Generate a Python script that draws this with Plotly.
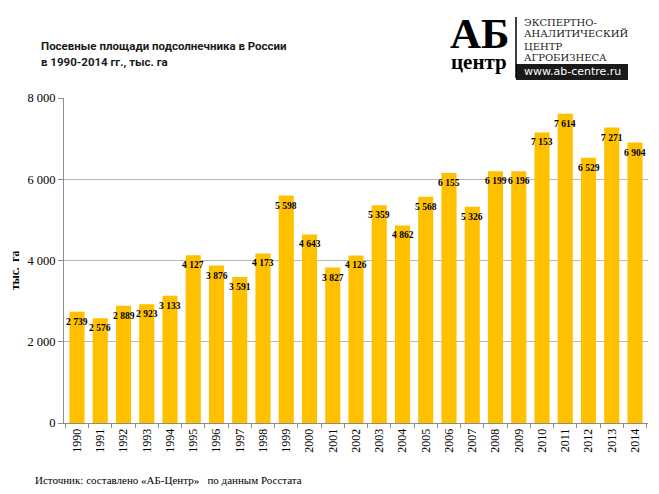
import plotly.graph_objects as go

years = [str(y) for y in range(1990, 2015)]
values = [2739, 2576, 2889, 2923, 3133, 4127, 3876, 3591, 4173, 5598, 4643, 3827, 4126,
          5359, 4862, 5568, 6155, 5326, 6199, 6196, 7153, 7614, 6529, 7271, 6904]
ytick_vals = [0, 2000, 4000, 6000, 8000]
ytick_text = ["0", "2 000", "4 000", "6 000", "8 000"]

# page body has an 8px margin; compensate so plot sits where the reference has it
OFF = 8
W, H = 659 - OFF, 494 - OFF
PL, PR, PT, PB = 64, 648, 98, 423  # plot area in window pixels
ML, MR, MT, MB = PL - OFF, 659 - PR, PT - OFF, 494 - PB
PW, PH = PR - PL, PB - PT


def px(x):
    return (x - PL) / PW


def py(y):
    return (PB - y) / PH


def fmt(v):
    return f"{v:,}".replace(",", " ")


serif = "Liberation Serif, Times New Roman, serif"
title_font = dict(family="Roboto, Liberation Sans, Arial", size=11.5, color="#1a1a1a", weight="bold")

fig = go.Figure()
fig.add_trace(go.Bar(x=years, y=values, marker=dict(color="#FFC000", line=dict(width=0)),
                     width=0.65, hoverinfo="skip"))

annotations = []
for i, v in enumerate(values):
    annotations.append(dict(x=i, y=v, xref="x", yref="y", text=fmt(v), showarrow=False,
                            yanchor="middle", yshift=-10,
                            font=dict(family=serif, size=9.5, color="black", weight="bold")))

layout_ann = [
    dict(text="Посевные площади подсолнечника в России", x=px(39), y=py(46),
         xanchor="left", yanchor="middle", font=title_font),
    dict(text="в 1990-2014 гг., тыс. га", x=px(39), y=py(62),
         xanchor="left", yanchor="middle", font=title_font),
    dict(text="тыс.  га", x=px(15), y=py(270), textangle=-90, xanchor="center", yanchor="middle",
         font=dict(family=serif, size=11.5, color="black", weight="bold")),
    dict(text="Источник: составлено «АБ-Центр»   по данным Росстата",
         x=px(33), y=py(480), xanchor="left", yanchor="middle",
         font=dict(family=serif, size=11, color="black")),
    # logo
    dict(text="АБ", x=px(479), y=py(33), xanchor="center", yanchor="middle",
         font=dict(family=serif, size=43, color="black", weight="bold")),
    dict(text="центр", x=px(479), y=py(62), xanchor="center", yanchor="middle",
         font=dict(family=serif, size=21, color="black", weight="bold")),
    dict(text="ЭКСПЕРТНО-", x=px(522), y=py(22), xanchor="left", yanchor="middle",
         font=dict(family="DejaVu Serif, serif", size=10, color="#222222")),
    dict(text="АНАЛИТИЧЕСКИЙ", x=px(522), y=py(34), xanchor="left", yanchor="middle",
         font=dict(family="DejaVu Serif, serif", size=10, color="#222222")),
    dict(text="ЦЕНТР", x=px(522), y=py(46), xanchor="left", yanchor="middle",
         font=dict(family="DejaVu Serif, serif", size=10, color="#222222")),
    dict(text="АГРОБИЗНЕСА", x=px(522), y=py(57), xanchor="left", yanchor="middle",
         font=dict(family="DejaVu Serif, serif", size=10, color="#222222")),
    dict(text="www.ab-centre.ru", x=px(572), y=py(72), xanchor="center", yanchor="middle",
         font=dict(family="DejaVu Sans, sans-serif", size=11, color="white")),
]
for a in layout_ann:
    a.update(xref="paper", yref="paper", showarrow=False)
    annotations.append(a)

fig.update_layout(
    width=W, height=H,
    margin=dict(l=ML, r=MR, t=MT, b=MB),
    plot_bgcolor="white", paper_bgcolor="white",
    showlegend=False,
    annotations=annotations,
    shapes=[
        dict(type="line", xref="paper", yref="paper", x0=px(516), x1=px(516),
             y0=py(17), y1=py(78), line=dict(color="black", width=1.5)),
        dict(type="rect", xref="paper", yref="paper", x0=px(516), x1=px(628),
             y0=py(64), y1=py(80), fillcolor="#1a1a1a", line=dict(width=0), layer="below"),
    ],
    xaxis=dict(type="category", tickangle=-90, ticks="outside", tickson="boundaries",
               ticklen=4, tickcolor="#8c8c8c", showline=True, linecolor="#8c8c8c", linewidth=1,
               tickfont=dict(family=serif, size=12, color="black"), showgrid=False),
    yaxis=dict(range=[0, 8000], tickvals=ytick_vals, ticktext=ytick_text, ticks="outside",
               ticklen=5, tickcolor="#8c8c8c", showline=True, linecolor="#8c8c8c", linewidth=1,
               gridcolor="#b8b8b8", gridwidth=1, zeroline=False,
               tickfont=dict(family=serif, size=12.5, color="black")),
)

fig.write_html("out.html")
